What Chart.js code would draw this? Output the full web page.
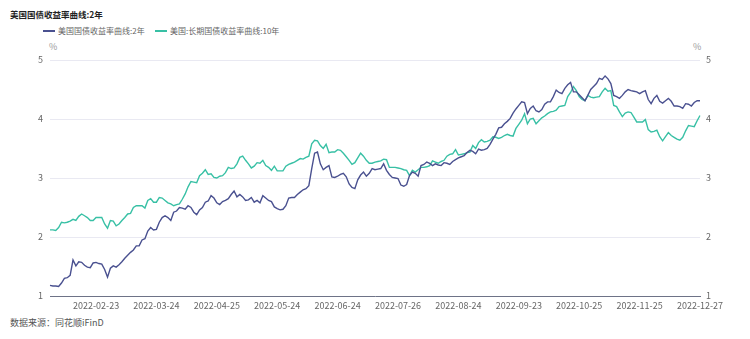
<!DOCTYPE html>
<html>
<head>
<meta charset="utf-8">
<script src="https://cdn.jsdelivr.net/npm/chart.js@4.4.1/dist/chart.umd.min.js"></script>
<style>
  body { margin: 0; background: #fff; font-family: "Noto Sans CJK SC", "Noto Sans", sans-serif; }
  .wrap { position: relative; width: 750px; height: 339px; overflow: hidden; }
  .title { position: absolute; left: 10px; top: 8px; font-size: 8.5px; font-weight: bold; color: #222; }
  .legend { position: absolute; top: 25px; font-size: 8px; color: #666; display: flex; align-items: center; }
  .legend i { display: inline-block; width: 12px; height: 2px; margin-right: 3px; }
  .unit { position: absolute; top: 40px; font-size: 9px; color: #999; }
  .source { position: absolute; left: 10px; top: 316px; font-size: 9px; color: #555; }
  canvas { position: absolute; left: 0; top: 0; }
</style>
</head>
<body>
<div class="wrap">
  <div class="title">美国国债收益率曲线:2年</div>
  <div class="legend" style="left:43px"><i style="background:#4a5190"></i>美国国债收益率曲线:2年</div>
  <div class="legend" style="left:155px"><i style="background:#38c0a5"></i>美国:长期国债收益率曲线:10年</div>
  <div class="unit" style="left:49px">%</div>
  <div class="unit" style="left:693px">%</div>
  <div class="source">数据来源：同花顺iFinD</div>
  <canvas id="chart" width="750" height="339"></canvas>
</div>
<script>
// x tick labels, one every 21 trading days starting at point 16
const tickDates = ['2022-02-23', '2022-03-24', '2022-04-25', '2022-05-24', '2022-06-24', '2022-07-26',
  '2022-08-24', '2022-09-23', '2022-10-25', '2022-11-25', '2022-12-27'];
const firstTick = 16;
const tickStep = 21;
const yTicks = [1, 2, 3, 4, 5];

// US 2y treasury yield (%)
const yield2y = [
  1.18, 1.17, 1.17, 1.16, 1.22, 1.30, 1.31, 1.35, 1.61, 1.51,
  1.58, 1.57, 1.52, 1.49, 1.48, 1.56, 1.57, 1.55, 1.54, 1.45,
  1.32, 1.47, 1.51, 1.49, 1.53, 1.58, 1.64, 1.69, 1.74, 1.78,
  1.85, 1.85, 1.95, 1.97, 2.10, 2.16, 2.12, 2.13, 2.25, 2.33,
  2.36, 2.33, 2.28, 2.42, 2.44, 2.50, 2.49, 2.47, 2.53, 2.50,
  2.42, 2.38, 2.46, 2.50, 2.59, 2.61, 2.70, 2.66, 2.58, 2.55,
  2.60, 2.62, 2.65, 2.72, 2.78, 2.68, 2.72, 2.68, 2.62, 2.63,
  2.67, 2.59, 2.62, 2.58, 2.70, 2.66, 2.62, 2.60, 2.51, 2.48,
  2.46, 2.47, 2.53, 2.66, 2.67, 2.67, 2.72, 2.76, 2.80, 2.82,
  2.87, 3.16, 3.42, 3.44, 3.24, 3.14, 3.18, 3.21, 3.02, 3.01,
  3.03, 3.06, 3.08, 3.02, 2.90, 2.84, 2.82, 2.97, 3.05, 3.10,
  3.03, 3.08, 3.16, 3.14, 3.15, 3.16, 3.24, 3.13, 3.06, 3.01,
  3.00, 2.99, 2.88, 2.86, 2.89, 3.04, 3.10, 3.08, 3.03, 3.21,
  3.23, 3.27, 3.25, 3.21, 3.24, 3.22, 3.21, 3.26, 3.25, 3.23,
  3.28, 3.31, 3.34, 3.36, 3.38, 3.43, 3.47, 3.45, 3.41, 3.49,
  3.47, 3.48, 3.50, 3.57, 3.66, 3.74, 3.85, 3.86, 3.92, 3.96,
  4.01, 4.10, 4.17, 4.23, 4.29, 4.28, 4.09, 4.18, 4.22, 4.14,
  4.12, 4.16, 4.25, 4.29, 4.29, 4.38, 4.49, 4.45, 4.43, 4.52,
  4.58, 4.62, 4.46, 4.46, 4.41, 4.36, 4.31, 4.40, 4.50, 4.55,
  4.60, 4.69, 4.67, 4.73, 4.68, 4.60, 4.40, 4.38, 4.35, 4.40,
  4.46, 4.50, 4.48, 4.47, 4.46, 4.43, 4.46, 4.48, 4.33, 4.26,
  4.35, 4.40, 4.30, 4.27, 4.31, 4.35, 4.30, 4.22, 4.22, 4.21,
  4.18, 4.26, 4.25, 4.22, 4.28, 4.31, 4.31
];

// US long-term treasury yield, 10y (%)
const yield10y = [
  2.12, 2.12, 2.11, 2.16, 2.25, 2.24, 2.25, 2.27, 2.30, 2.28,
  2.35, 2.39, 2.36, 2.33, 2.28, 2.28, 2.33, 2.33, 2.33, 2.22,
  2.15, 2.28, 2.27, 2.19, 2.22, 2.28, 2.33, 2.39, 2.40, 2.50,
  2.53, 2.53, 2.53, 2.49, 2.62, 2.65, 2.59, 2.59, 2.67, 2.66,
  2.62, 2.58, 2.56, 2.53, 2.55, 2.56, 2.64, 2.73, 2.85, 2.94,
  2.93, 2.92, 3.04, 3.08, 3.14, 3.06, 3.07, 3.01, 3.00, 3.03,
  3.04, 3.09, 3.18, 3.16, 3.17, 3.24, 3.35, 3.37, 3.30, 3.24,
  3.17, 3.20, 3.26, 3.25, 3.30, 3.21, 3.18, 3.13, 3.20, 3.12,
  3.12, 3.12, 3.20, 3.23, 3.25, 3.27, 3.30, 3.33, 3.32, 3.35,
  3.37, 3.58, 3.64, 3.63, 3.55, 3.50, 3.57, 3.43, 3.44, 3.44,
  3.48, 3.47, 3.42, 3.36, 3.30, 3.23, 3.26, 3.34, 3.42, 3.37,
  3.30, 3.25, 3.25, 3.27, 3.28, 3.29, 3.32, 3.31, 3.18, 3.18,
  3.18, 3.17, 3.16, 3.14, 3.13, 3.04, 3.13, 3.10, 3.14, 3.18,
  3.18, 3.19, 3.21, 3.29, 3.27, 3.25, 3.28, 3.30, 3.37, 3.40,
  3.41, 3.48, 3.39, 3.40, 3.41, 3.43, 3.44, 3.55, 3.50, 3.60,
  3.65, 3.61, 3.62, 3.64, 3.70, 3.69, 3.67, 3.69, 3.72, 3.74,
  3.72, 3.71, 3.84, 3.91, 3.98, 4.09, 3.92, 4.00, 4.01, 3.92,
  3.97, 4.02, 4.05, 4.09, 4.12, 4.13, 4.15, 4.21, 4.22, 4.23,
  4.38, 4.45, 4.55, 4.48, 4.38, 4.33, 4.31, 4.40, 4.37, 4.36,
  4.37, 4.38, 4.46, 4.52, 4.47, 4.48, 4.23, 4.21, 4.12, 4.04,
  4.10, 4.12, 4.11, 4.03, 3.95, 3.95, 3.95, 3.99, 3.82, 3.78,
  3.79, 3.81, 3.70, 3.63, 3.70, 3.77, 3.72, 3.69, 3.66, 3.64,
  3.69, 3.80, 3.89, 3.88, 3.87, 3.97, 4.06
];

// category labels: blank except on the tick days
const labels = yield2y.map((v, i) => {
  const k = (i - firstTick) / tickStep;
  return Number.isInteger(k) && k >= 0 && k < tickDates.length ? tickDates[k] : '';
});

const FONT = '"Noto Sans CJK SC", "Noto Sans", sans-serif';

const ctx = document.getElementById('chart').getContext('2d');
new Chart(ctx, {
  type: 'line',
  data: {
    labels: labels,
    datasets: [{
      label: '美国国债收益率曲线:2年',
      data: yield2y,
      borderColor: '#4a5190',
      borderWidth: 1.4,
      pointRadius: 0,
      tension: 0,
      yAxisID: 'y'
    }, {
      label: '美国:长期国债收益率曲线:10年',
      data: yield10y,
      borderColor: '#38c0a5',
      borderWidth: 1.4,
      pointRadius: 0,
      tension: 0,
      yAxisID: 'y'
    }]
  },
  options: {
    responsive: false,
    animation: false,
    layout: { padding: { top: 60, bottom: 23, left: 0, right: 0 } },
    plugins: {
      legend: { display: false },
      tooltip: { enabled: false }
    },
    scales: {
      x: {
        type: 'category',
        offset: false,
        grid: { display: false, drawTicks: false },
        border: { display: true, color: '#6e7387', width: 1 },
        ticks: {
          autoSkip: false,
          maxRotation: 0,
          padding: 4,
          color: '#666',
          font: { size: 9, family: FONT },
          callback: function(value, index) { return labels[index]; }
        },
        afterFit: function(scale) { scale.height = 20; }
      },
      y: {
        position: 'left',
        min: 1,
        max: 5,
        grid: { color: '#e9e9f2', drawTicks: false },
        border: { display: false },
        ticks: {
          stepSize: 1,
          padding: 7,
          color: '#666',
          font: { size: 9, family: FONT },
          callback: v => yTicks.includes(v) ? v : ''
        },
        afterFit: function(scale) { scale.width = 50; }
      },
      y2: {
        position: 'right',
        min: 1,
        max: 5,
        grid: { display: false, drawTicks: false },
        border: { display: false },
        ticks: {
          stepSize: 1,
          padding: 6,
          color: '#666',
          font: { size: 9, family: FONT },
          callback: v => yTicks.includes(v) ? v : ''
        },
        afterFit: function(scale) { scale.width = 50; }
      }
    }
  }
});
</script>
</body>
</html>
